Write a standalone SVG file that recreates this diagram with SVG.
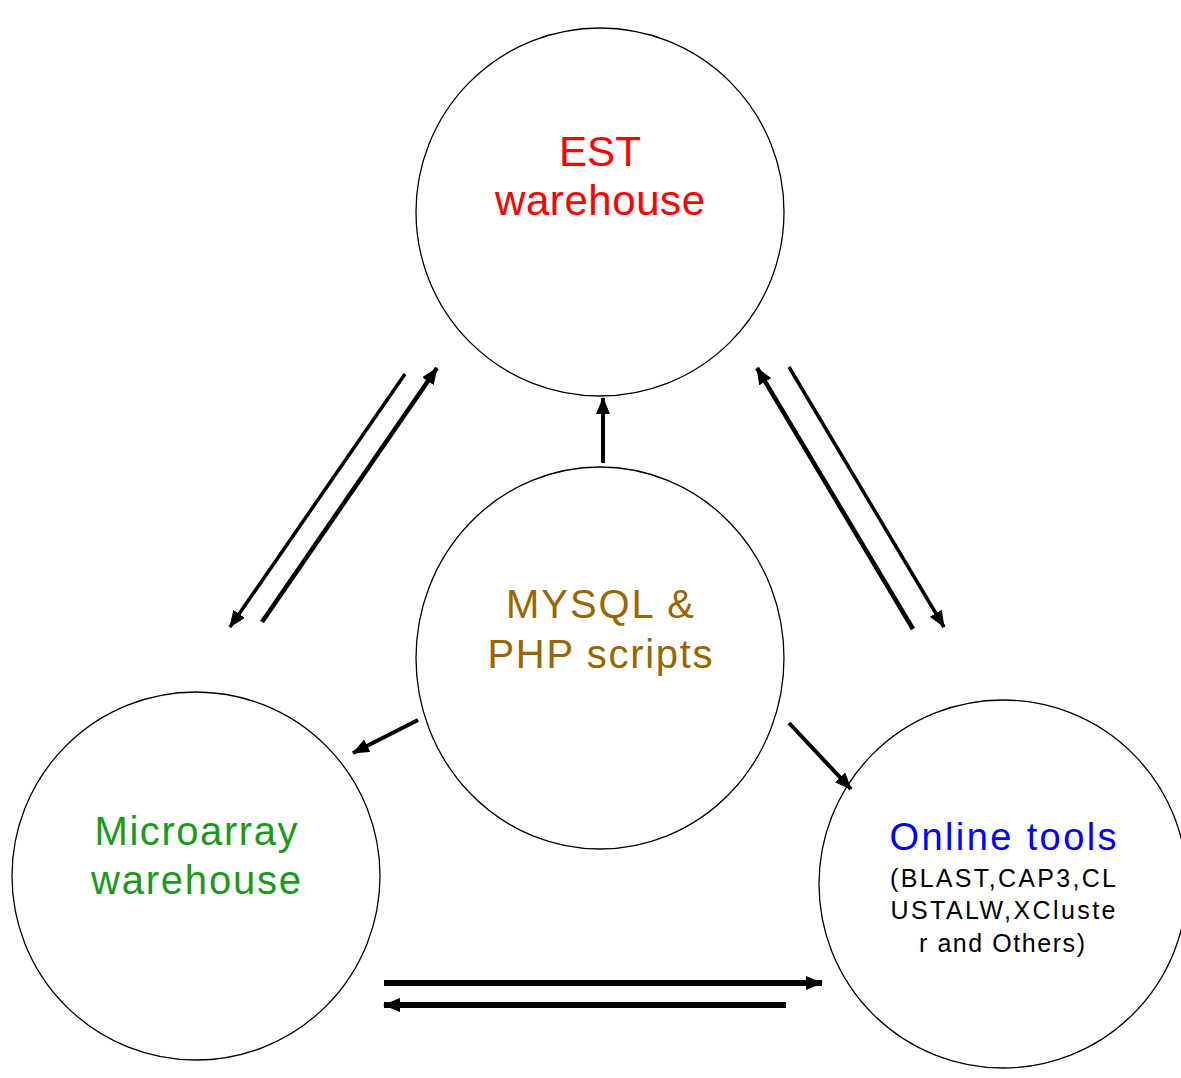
<svg xmlns="http://www.w3.org/2000/svg" width="1181" height="1078" viewBox="0 0 1181 1078">
<defs>
<marker id="ah" markerUnits="userSpaceOnUse" markerWidth="20" markerHeight="16" refX="16" refY="7" orient="auto">
<path d="M0,0 L17,7 L0,14 Z" fill="#000"/>
</marker>
</defs>
<style>
.node{fill:#fff;stroke:#000;stroke-width:1.3}
.lbl{font-family:"Liberation Sans",Arial,sans-serif;text-anchor:middle}
.c{stroke:#000;fill:none;marker-end:url(#ah)}
</style>
<rect width="1181" height="1078" fill="#fff"/>
<g id="est">
<circle class="node" cx="600" cy="212" r="184"/>
<text class="lbl" x="600" y="166" font-size="42" fill="#ff0000" textLength="82" lengthAdjust="spacingAndGlyphs">EST</text>
<text class="lbl" x="600" y="215" font-size="42" fill="#ff0000" textLength="210" lengthAdjust="spacing">warehouse</text>
</g>
<g id="mysql">
<ellipse class="node" cx="600" cy="658" rx="184" ry="191"/>
<text class="lbl" x="600" y="618" font-size="40" fill="#996600" textLength="188" lengthAdjust="spacing">MYSQL &amp;</text>
<text class="lbl" x="600" y="668" font-size="40" fill="#996600" textLength="225" lengthAdjust="spacing">PHP scripts</text>
</g>
<g id="microarray">
<circle class="node" cx="196" cy="876" r="184"/>
<text class="lbl" x="196" y="845" font-size="40" fill="#1a9a1a" textLength="203" lengthAdjust="spacing">Microarray</text>
<text class="lbl" x="196" y="894" font-size="40" fill="#1a9a1a" textLength="210" lengthAdjust="spacing">warehouse</text>
</g>
<g id="online">
<circle class="node" cx="1003" cy="884" r="184"/>
<text class="lbl" x="1003" y="850" font-size="38" fill="#0000ff" textLength="227" lengthAdjust="spacing">Online tools</text>
<text class="lbl" x="1003" y="887" font-size="25" fill="#000" textLength="226" lengthAdjust="spacing">(BLAST,CAP3,CL</text>
<text class="lbl" x="1003" y="919" font-size="25" fill="#000" textLength="225" lengthAdjust="spacing">USTALW,XCluste</text>
<text class="lbl" x="1002" y="952" font-size="25" fill="#000" textLength="166" lengthAdjust="spacing">r and Others)</text>
</g>
<g id="connectors">
<line class="c" style="stroke-width:3.5" x1="405" y1="374" x2="230" y2="627"/>
<line class="c" style="stroke-width:4.5" x1="262" y1="622" x2="437" y2="368"/>
<line class="c" style="stroke-width:4.5" x1="913" y1="629" x2="757" y2="368"/>
<line class="c" style="stroke-width:3.5" x1="789" y1="367" x2="944" y2="627"/>
<line class="c" style="stroke-width:4" x1="603" y1="463" x2="603" y2="398"/>
<line class="c" style="stroke-width:4" x1="418" y1="720" x2="353" y2="753"/>
<line class="c" style="stroke-width:4" x1="789" y1="723" x2="851" y2="789"/>
<line class="c" style="stroke-width:6" x1="384" y1="983" x2="822" y2="983"/>
<line class="c" style="stroke-width:6" x1="786" y1="1005" x2="384" y2="1005"/>
</g>
</svg>
